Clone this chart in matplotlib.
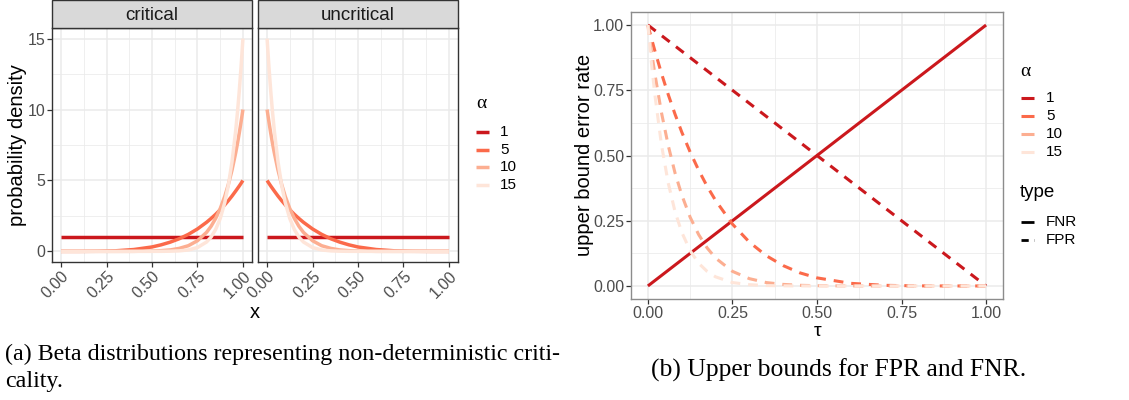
import matplotlib
matplotlib.use('Agg')
import matplotlib.pyplot as plt
from matplotlib.lines import Line2D
from matplotlib.patches import Rectangle

# ---------------- data ----------------
alphas = [1, 5, 10, 15]
alpha_labels = ['1', '5', '10', '15']
colors = ['#CB181D', '#FB6A4A', '#FCAE91', '#FEE5D9']

# Beta densities (critical: Beta(alpha, 1)); uncritical is the mirror image
x_grid = [0.0, 0.1, 0.2, 0.3, 0.4, 0.5, 0.55, 0.6, 0.65, 0.7, 0.75, 0.8,
          0.825, 0.85, 0.875, 0.9, 0.92, 0.94, 0.96, 0.97, 0.98, 0.99, 1.0]
dens_a1 = [1.0] * len(x_grid)
dens_a5 = [0.0, 0.0005, 0.008, 0.04, 0.13, 0.31, 0.46, 0.65, 0.89, 1.20, 1.58, 2.05,
           2.32, 2.61, 2.93, 3.28, 3.58, 3.90, 4.25, 4.43, 4.61, 4.80, 5.0]
dens_a10 = [0.0, 0.0, 0.0, 0.0002, 0.003, 0.02, 0.05, 0.10, 0.21, 0.40, 0.75, 1.34,
            1.77, 2.32, 3.01, 3.87, 4.72, 5.73, 6.93, 7.60, 8.34, 9.14, 10.0]
dens_a15 = [0.0, 0.0, 0.0, 0.0, 0.0, 0.001, 0.004, 0.012, 0.036, 0.10, 0.27, 0.66,
            1.01, 1.54, 2.31, 3.43, 4.67, 6.31, 8.47, 9.79, 11.30, 13.03, 15.0]
densities = [dens_a1, dens_a5, dens_a10, dens_a15]

# Upper bounds of error rates vs tau
tau_grid = [0.0, 0.01, 0.02, 0.04, 0.06, 0.08, 0.1, 0.125, 0.15, 0.175, 0.2, 0.25,
            0.3, 0.35, 0.4, 0.45, 0.5, 0.6, 0.7, 0.8, 0.9, 1.0]
fnr_a1 = [0.0, 0.01, 0.02, 0.04, 0.06, 0.08, 0.1, 0.125, 0.15, 0.175, 0.2, 0.25,
          0.3, 0.35, 0.4, 0.45, 0.5, 0.6, 0.7, 0.8, 0.9, 1.0]
fpr_a1 = [1.0, 0.99, 0.98, 0.96, 0.94, 0.92, 0.9, 0.875, 0.85, 0.825, 0.8, 0.75,
          0.7, 0.65, 0.6, 0.55, 0.5, 0.4, 0.3, 0.2, 0.1, 0.0]
fpr_a5 = [1.0, 0.951, 0.904, 0.815, 0.734, 0.659, 0.590, 0.513, 0.444, 0.382, 0.328, 0.237,
          0.168, 0.116, 0.078, 0.050, 0.031, 0.010, 0.0024, 0.0003, 0.0, 0.0]
fpr_a10 = [1.0, 0.904, 0.817, 0.665, 0.539, 0.434, 0.349, 0.263, 0.197, 0.146, 0.107, 0.056,
           0.028, 0.013, 0.006, 0.0025, 0.001, 0.0001, 0.0, 0.0, 0.0, 0.0]
fpr_a15 = [1.0, 0.860, 0.739, 0.542, 0.395, 0.286, 0.206, 0.135, 0.087, 0.056, 0.035, 0.013,
           0.005, 0.0016, 0.0005, 0.0001, 0.0, 0.0, 0.0, 0.0, 0.0, 0.0]
fprs = [fpr_a1, fpr_a5, fpr_a10, fpr_a15]

facet_names = ['critical', 'uncritical']
type_names = ['FNR', 'FPR']
ticks01 = [0.0, 0.25, 0.5, 0.75, 1.0]
tick01_labels = ['0.00', '0.25', '0.50', '0.75', '1.00']
dens_ticks = [0, 5, 10, 15]

# ---------------- layout helpers ----------------
W, H = 1129, 400
fig = plt.figure(figsize=(W / 100, H / 100), dpi=100)
SANS = 'Liberation Sans'
SERIF = 'Liberation Serif'
TICKC = '#4D4D4D'
GRID = '#EBEBEB'


def box(x0, y0, x1, y1):
    return [x0 / W, 1 - y1 / H, (x1 - x0) / W, (y1 - y0) / H]


def P(x, y):
    return (x / W, 1 - y / H)


def style(ax, border, minor_x, minor_y):
    ax.set_xticks(minor_x, minor=True)
    ax.set_yticks(minor_y, minor=True)
    ax.grid(which='major', color=GRID, lw=1.1)
    ax.grid(which='minor', color=GRID, lw=0.55)
    ax.set_axisbelow(True)
    for s in ax.spines.values():
        s.set_color(border)
        s.set_linewidth(1.0)
    ax.tick_params(which='major', length=3.5, width=0.9, color='#333333',
                   labelsize=11.5, labelcolor=TICKC, pad=1.5)
    ax.tick_params(which='minor', length=0)
    for lab in ax.get_xticklabels() + ax.get_yticklabels():
        lab.set_family(SANS)


minor01 = [0.125, 0.375, 0.625, 0.875]

# ---------------- left: facets ----------------
panels = [(52, 252), (258, 458)]
for i, (x0, x1) in enumerate(panels):
    ax = fig.add_axes(box(x0, 28, x1, 262))
    xs = x_grid if i == 0 else [1 - v for v in x_grid]
    for a, c, d in zip(alphas, colors, densities):
        ax.plot(xs, d, color=c, lw=2.5, solid_capstyle='butt')
    ax.set_xlim(-0.05, 1.05)
    ax.set_ylim(-0.75, 15.75)
    ax.set_xticks(ticks01)
    ax.set_xticklabels(tick01_labels, rotation=45, ha='right', va='top',
                       rotation_mode='anchor')
    ax.set_yticks(dens_ticks)
    ax.set_yticklabels([str(v) for v in dens_ticks])
    style(ax, '#333333', minor01, [2.5, 7.5, 12.5])
    if i == 1:
        ax.tick_params(axis='y', which='both', left=False, labelleft=False)
    # strip
    fig.patches.append(Rectangle(P(x0, 28), (x1 - x0) / W, 28 / H,
                                 transform=fig.transFigure, facecolor='#D9D9D9',
                                 edgecolor='#333333', lw=1.0, zorder=1))
    fig.text(*P((x0 + x1) / 2, 15), facet_names[i], ha='center', va='center',
             fontsize=13.5, family=SANS, color='#1A1A1A')

fig.text(*P(255, 313), 'x', ha='center', va='center', fontsize=14.5, family=SANS)
fig.text(*P(18, 145), 'probability density', ha='center', va='center',
         rotation=90, fontsize=14.5, family=SANS)

# left legend
fig.text(*P(476, 104), 'α', ha='left', va='center', fontsize=14, family=SERIF)
for k, (lab, c) in enumerate(zip(alpha_labels, colors)):
    y = [132, 150, 167, 185][k]
    fig.lines.append(Line2D([476 / W, 489 / W], [1 - y / H] * 2, color=c, lw=2.5,
                            transform=fig.transFigure, solid_capstyle='butt'))
    fig.text(*P(500, y), lab, ha='left', va='center', fontsize=11, family=SANS)

# ---------------- right: error bounds ----------------
axr = fig.add_axes(box(631, 12, 1003, 299))
axr.plot(tau_grid, fnr_a1, color=colors[0], lw=2.2, solid_capstyle='butt')
for c, f in zip(colors, fprs):
    axr.plot(tau_grid, f, color=c, lw=2.2, linestyle=(0, (3.2, 2.6)),
             dash_capstyle='butt')
axr.set_xlim(-0.05, 1.05)
axr.set_ylim(-0.05, 1.05)
axr.set_xticks(ticks01)
axr.set_xticklabels(tick01_labels)
axr.set_yticks(ticks01)
axr.set_yticklabels(tick01_labels)
style(axr, '#8C8C8C', minor01, minor01)

fig.text(*P(818, 331), 'τ', ha='center', va='center', fontsize=14, family=SANS)
fig.text(*P(585, 155), 'upper bound error rate', ha='center', va='center',
         rotation=90, fontsize=14.5, family=SANS)

# right legend
fig.text(*P(1020, 71), 'α', ha='left', va='center', fontsize=14, family=SERIF)
for k, (lab, c) in enumerate(zip(alpha_labels, colors)):
    y = [98, 116, 134, 152][k]
    fig.lines.append(Line2D([1021 / W, 1034 / W], [1 - y / H] * 2, color=c, lw=2.2,
                            transform=fig.transFigure, solid_capstyle='butt'))
    fig.text(*P(1046, y), lab, ha='left', va='center', fontsize=11, family=SANS)
fig.text(*P(1020, 193), 'type', ha='left', va='center', fontsize=13.5, family=SANS)
for k, lab in enumerate(type_names):
    y = [222, 240][k]
    ls = '-' if lab == 'FNR' else (0, (2.6, 2.0))
    fig.lines.append(Line2D([1021 / W, 1034 / W], [1 - y / H] * 2, color='black', lw=2.0,
                            linestyle=ls, transform=fig.transFigure,
                            solid_capstyle='butt', dash_capstyle='butt'))
    fig.text(*P(1046, y), lab, ha='left', va='center', fontsize=11, family=SANS)

# ---------------- captions ----------------
renderer = fig.canvas.get_renderer()


def fit_text(x, y, s, width, ha='left'):
    t = fig.text(*P(x, y), s, ha=ha, va='center', fontsize=14, family=SERIF)
    w = t.get_window_extent(renderer).width
    t.set_fontsize(14 * width / w)
    return t


t1 = fit_text(5, 354, '(a) Beta distributions representing non-deterministic criti-', 560)
fig.text(*P(5, 381), 'cality.', ha='left', va='center', fontsize=t1.get_fontsize(),
         family=SERIF)
fit_text(651, 370, '(b) Upper bounds for FPR and FNR.', 376)

fig.savefig('out.png', dpi=100)
